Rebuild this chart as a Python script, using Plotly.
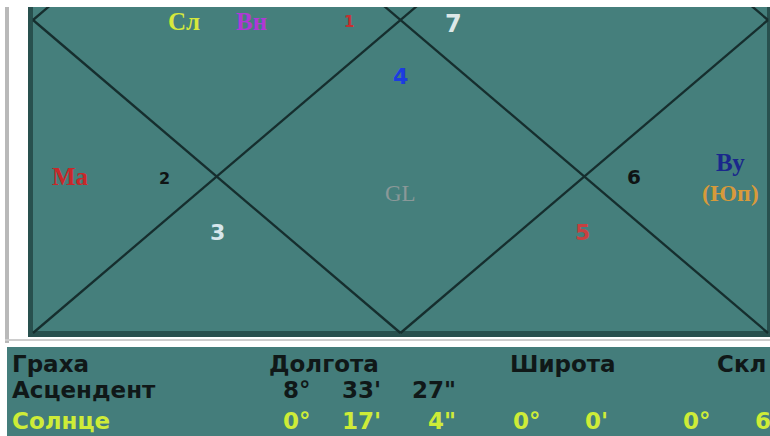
import plotly.graph_objects as go

# ---------------- data ----------------
house_numbers = ["1", "2", "3", "4", "5", "6", "7"]
planet_labels = ["Сл", "Вн", "Ма", "Ву", "(Юп)", "GL"]

table_headers = ["Граха", "Долгота", "Широта", "Скл"]
row_names = ["Асцендент", "Солнце"]
asc_longitude = ["8°", "33'", "27\""]
sun_longitude = ["0°", "17'", "4\""]
sun_latitude = ["0°", "0'"]
sun_declination = ["0°", "6"]

# ---------------- layout / geometry ----------------
W, H = 770, 436
BOX_L, BOX_R, BOX_T, BOX_B = 33, 768, 7, 333
CY = 20                      # centre row of the (cropped) chart
CX = (BOX_L + BOX_R) / 2
HALF_H = BOX_B - CY
FULL_T = CY - HALF_H         # top of full square (outside view)

TEAL = "rgb(69,127,124)"
TEAL_T = "rgb(68,125,123)"
LINE = "rgb(22,46,46)"

fig = go.Figure()

shapes = [
    dict(type="rect", x0=5, x1=9, y0=7, y1=343, fillcolor="rgb(185,185,185)", line_width=0, layer="below"),
    dict(type="rect", x0=5, x1=W, y0=339, y1=341, fillcolor="rgb(205,205,205)", line_width=0, layer="below"),
    dict(type="rect", x0=BOX_L - 5, x1=BOX_R + 2, y0=BOX_T, y1=BOX_B + 4,
         fillcolor="rgb(40,80,78)", line_width=0, layer="below"),
    dict(type="rect", x0=BOX_L, x1=BOX_R - 1, y0=BOX_T, y1=BOX_B - 2,
         fillcolor=TEAL, line_width=0, layer="below"),
    dict(type="rect", x0=7, x1=W, y0=347, y1=H, fillcolor=TEAL_T, line_width=0, layer="below"),
]

segments = [
    ((BOX_L, FULL_T), (BOX_R, BOX_B)),
    ((BOX_L, BOX_B), (BOX_R, FULL_T)),
    ((BOX_L, CY), (CX, BOX_B)),
    ((CX, BOX_B), (BOX_R, CY)),
    ((BOX_L, CY), (CX, FULL_T)),
    ((CX, FULL_T), (BOX_R, CY)),
]
xs, ys = [], []
for (x0, y0), (x1, y1) in segments:
    xs += [x0, x1, None]
    ys += [y0, y1, None]
fig.add_trace(go.Scatter(x=xs, y=ys, mode="lines", line=dict(color=LINE, width=2.3),
                         hoverinfo="skip", showlegend=False))

annotations = []

def txt(t, x, y, color, size, family, bold=False, xanchor="center"):
    annotations.append(dict(
        text=f"<b>{t}</b>" if bold else t, x=x, y=y, xref="x", yref="y",
        showarrow=False, xanchor=xanchor, yanchor="middle",
        font=dict(color=color, size=size, family=family)))

SANS = "DejaVu Sans"
SERIF = "Liberation Serif"

num_pos = {"1": (349, 22, "rgb(196,48,48)", 15),
           "2": (164, 178, "rgb(15,20,20)", 16),
           "3": (217, 232, "rgb(214,230,236)", 22),
           "4": (400, 76, "rgb(28,60,224)", 22),
           "5": (582, 232, "rgb(200,64,64)", 22),
           "6": (634, 177, "rgb(15,20,20)", 20),
           "7": (453, 24, "rgb(220,232,232)", 24)}
for n in house_numbers:
    x, y, c, s = num_pos[n]
    txt(n, x, y, c, s, SANS, bold=True)

pl_pos = {"Сл": (184, 21, "rgb(214,232,60)", 25, True),
          "Вн": (251, 21, "rgb(176,56,214)", 25, True),
          "Ма": (70, 176, "rgb(200,40,42)", 25, True),
          "Ву": (730, 162, "rgb(26,40,140)", 25, True),
          "(Юп)": (730, 193, "rgb(216,154,58)", 24, True),
          "GL": (400, 193, "rgb(138,152,152)", 23, False)}
for p in planet_labels:
    x, y, c, s, b = pl_pos[p]
    txt(p, x, y, c, s, SERIF, bold=b)

DARK = "rgb(16,24,24)"
YEL = "rgb(206,236,56)"
TS = 23
hdr_x = [10, 267, 508, 715]
for h, x in zip(table_headers, hdr_x):
    txt(h, x, 364, DARK, TS, SANS, bold=True, xanchor="left")
row_y = [390, 421]
row_col = [DARK, YEL]
for r, y, c in zip(row_names, row_y, row_col):
    txt(r, 10, y, c, TS, SANS, bold=True, xanchor="left")

lon_right = [313, 383, 458]
for v, x in zip(asc_longitude, lon_right):
    txt(v, x, row_y[0], DARK, TS, SANS, bold=True, xanchor="right")
for v, x in zip(sun_longitude, lon_right):
    txt(v, x, row_y[1], YEL, TS, SANS, bold=True, xanchor="right")
for v, x in zip(sun_latitude, [543, 610]):
    txt(v, x, row_y[1], YEL, TS, SANS, bold=True, xanchor="right")
txt(sun_declination[0], 713, row_y[1], YEL, TS, SANS, bold=True, xanchor="right")
txt(sun_declination[1], 753, row_y[1], YEL, TS, SANS, bold=True, xanchor="left")

fig.update_layout(
    width=W, height=H, margin=dict(l=0, r=0, t=7, b=0),
    paper_bgcolor="white", plot_bgcolor="white",
    xaxis=dict(range=[0, W], visible=False, fixedrange=True),
    yaxis=dict(range=[H, 7], visible=False, fixedrange=True),
    shapes=shapes, annotations=annotations, showlegend=False,
)

fig.write_html("out.html", config={"displayModeBar": False},
               post_script="document.body.style.margin='0';document.body.style.overflow='hidden';")
